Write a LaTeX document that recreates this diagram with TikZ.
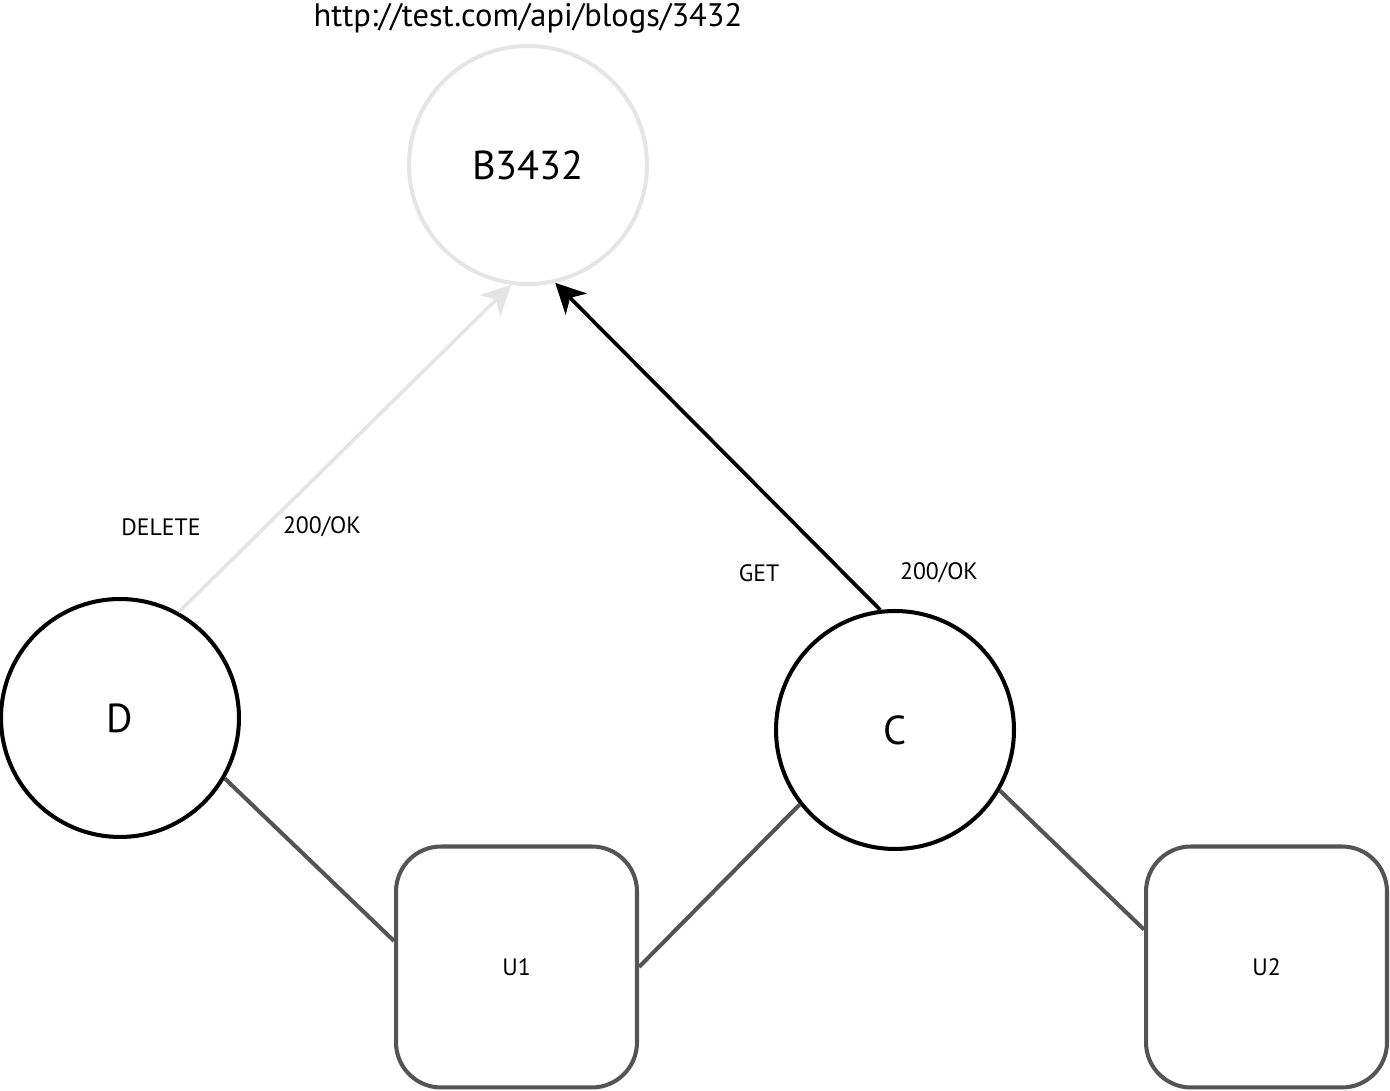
\documentclass[tikz,border=0pt]{standalone}
\usepackage{fontspec}
\setmainfont{PT Sans}
\usepackage{tikz}
\usetikzlibrary{positioning,arrows.meta}

\begin{document}
\begin{tikzpicture}[x=0.02cm, y=0.02cm,
    res/.style={circle, draw=black!10, line width=2.3pt, minimum size=4.76cm, inner sep=0pt, font=\fontsize{23}{27}\selectfont},
    client/.style={circle, draw=black, line width=2.3pt, minimum size=4.76cm, inner sep=0pt, font=\fontsize{23}{27}\selectfont},
    user/.style={draw=black!67, line width=2.3pt, rounded corners=0.9cm, minimum size=4.82cm, inner sep=0pt, font=\fontsize{13.5}{16}\selectfont},
    link/.style={draw=black!67, line width=2.3pt},
    req/.style={line width=2.1pt, -{Stealth[length=17pt, width=17pt, inset=5pt]}},
    lbl/.style={font=\fontsize{13.5}{16}\selectfont}]
    \useasboundingbox (0,0) rectangle (1390,1091);

    \node[font=\fontsize{18.5}{22}\selectfont] (url) at (528,1073) {http://test.com/api/blogs/3432};
    \node[res] (B) at (528,926) {B3432};
    \node[client] (D) at (120,373) {D};
    \node[client] (C) at (895,361) {C};
    \node[user] (U1) at (516.5,124) {U1};
    \node[user] (U2) at (1266.5,124) {U2};

    \draw[req, black!10] (D.61) -- (B.262);
    \draw[req, black] (C.97) -- (B.283);

    \draw[link] (D.-30) -- (U1.168);
    \draw[link] (U1.east) -- (C.218);
    \draw[link] (C.-30) -- (U2.163);

    \node[lbl] (del) at (161,564) {DELETE};
    \node[lbl] (okD) at (322,564) {200/OK};
    \node[lbl] (get) at (759,518) {GET};
    \node[lbl] (okC) at (939,518) {200/OK};
\end{tikzpicture}
\end{document}
